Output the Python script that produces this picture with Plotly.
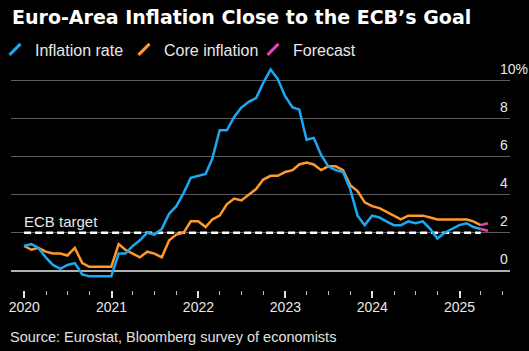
import plotly.graph_objects as go
import pandas as pd

# Monthly observations, Dec 2019 .. Mar 2025 (plotted at month end)
months = pd.date_range("2019-12-31", "2025-03-31", freq="ME")

inflation_rate = [1.3,
    1.4, 1.2, 0.7, 0.3, 0.1, 0.3, 0.4, -0.2, -0.3, -0.3, -0.3, -0.3,
    0.9, 0.9, 1.3, 1.6, 2.0, 1.9, 2.2, 3.0, 3.4, 4.1, 4.9, 5.0,
    5.1, 5.9, 7.4, 7.4, 8.1, 8.6, 8.9, 9.1, 9.9, 10.6, 10.1, 9.2,
    8.6, 8.5, 6.9, 7.0, 6.1, 5.5, 5.3, 5.2, 4.3, 2.9, 2.4, 2.9,
    2.8, 2.6, 2.4, 2.4, 2.6, 2.5, 2.6, 2.2, 1.7, 2.0, 2.2, 2.4,
    2.5, 2.3, 2.2]

core_inflation = [1.3,
    1.1, 1.2, 1.0, 0.9, 0.9, 0.8, 1.2, 0.4, 0.2, 0.2, 0.2, 0.2,
    1.4, 1.1, 0.9, 0.7, 1.0, 0.9, 0.7, 1.6, 1.9, 2.0, 2.6, 2.6,
    2.3, 2.7, 2.9, 3.5, 3.8, 3.7, 4.0, 4.3, 4.8, 5.0, 5.0, 5.2,
    5.3, 5.6, 5.7, 5.6, 5.3, 5.5, 5.5, 5.3, 4.5, 4.2, 3.6, 3.4,
    3.3, 3.1, 2.9, 2.7, 2.9, 2.9, 2.9, 2.8, 2.7, 2.7, 2.7, 2.7,
    2.7, 2.6, 2.4]

forecast_months = ["2025-03-31", "2025-04-30"]
inflation_forecast = [2.2, 2.1]
core_forecast = [2.4, 2.5]

ecb_target = 2.0

y_tickvals = [0, 2, 4, 6, 8, 10]
y_ticktext = ["0", "2", "4", "6", "8", "10%"]

BLUE = "#1aa9f2"
ORANGE = "#ff9a2a"
PINK = "#ec3fb6"
FONT = "Liberation Sans"

fig = go.Figure()

# ECB target dashed line
fig.add_trace(go.Scatter(
    x=[months[0], months[-1]], y=[ecb_target, ecb_target],
    mode="lines", line=dict(color="#ffffff", width=2.5, dash="7px,4px"),
    showlegend=False, hoverinfo="skip"))

fig.add_trace(go.Scatter(x=months, y=core_inflation, mode="lines",
                         line=dict(color=ORANGE, width=2.5), showlegend=False))
fig.add_trace(go.Scatter(x=months, y=inflation_rate, mode="lines",
                         line=dict(color=BLUE, width=2.5), showlegend=False))
fig.add_trace(go.Scatter(x=forecast_months, y=core_forecast, mode="lines",
                         line=dict(color=PINK, width=2.5), showlegend=False))
fig.add_trace(go.Scatter(x=forecast_months, y=inflation_forecast, mode="lines",
                         line=dict(color=PINK, width=2.5), showlegend=False))

# legend entries (slanted-bar symbols)
for name, col in [("Inflation rate", BLUE), ("Core inflation", ORANGE), ("Forecast", PINK)]:
    fig.add_trace(go.Scatter(
        x=[None], y=[None], mode="markers", name=name,
        marker=dict(symbol="line-ne", size=11, color=col,
                    line=dict(color=col, width=3))))

fig.add_annotation(
    x=months[0], y=ecb_target, xref="x", yref="y",
    text="ECB target", showarrow=False, xanchor="left", yanchor="bottom",
    xshift=-2, yshift=1,
    font=dict(family=FONT, size=15, color="#e8e8e8"))

fig.add_annotation(
    x=0, y=-0.205, xref="paper", yref="paper",
    text="Source: Eurostat, Bloomberg survey of economists",
    showarrow=False, xanchor="left", yanchor="middle", xshift=-3,
    font=dict(family=FONT, size=14.5, color="#e0e0e0"))

fig.update_layout(
    width=529, height=351,
    margin=dict(l=11, r=19, t=62, b=61, autoexpand=False),
    paper_bgcolor="#000000", plot_bgcolor="#000000",
    title=dict(text="<b>Euro-Area Inflation Close to the ECB’s Goal</b>",
               x=12 / 529, xref="container", xanchor="left",
               y=1 - 17.5 / 351, yref="container", yanchor="middle",
               font=dict(family="DejaVu Sans", size=19, color="#ffffff")),
    legend=dict(orientation="h", xref="paper", yref="paper",
                x=-16 / 499, xanchor="left",
                y=1 + 12.5 / 228, yanchor="middle",
                entrywidth=84, entrywidthmode="pixels",
                font=dict(family=FONT, size=16, color="#e8e8e8"),
                bgcolor="rgba(0,0,0,0)", itemclick=False),
    showlegend=True,
    xaxis=dict(
        type="date", range=["2019-11-06", "2025-08-01"], automargin=False,
        showgrid=False, zeroline=False, showline=False,
        tick0="2020-01-01", dtick="M12", tickformat="%Y",
        ticks="outside", ticklen=7, tickwidth=1.5, tickcolor="#e0e0e0",
        ticklabelstandoff=-3,
        tickfont=dict(family=FONT, size=14, color="#e8e8e8"),
        minor=dict(tick0="2020-01-01", dtick="M3", ticks="outside",
                   ticklen=4, tickwidth=1, tickcolor="#bdbdbd", showgrid=False),
    ),
    yaxis=dict(
        range=[-1.02, 11], side="right", automargin=False,
        tickvals=y_tickvals, ticktext=y_ticktext,
        ticks="", ticklabelposition="outside",
        ticklabelshift=-12, ticklabelstandoff=-11,
        showgrid=True, gridcolor="#5c5c5c", gridwidth=1,
        zeroline=True, zerolinecolor="#b0b0b0", zerolinewidth=1.5,
        tickfont=dict(family=FONT, size=14, color="#e8e8e8"),
    ),
)

fig.write_html("out.html")
